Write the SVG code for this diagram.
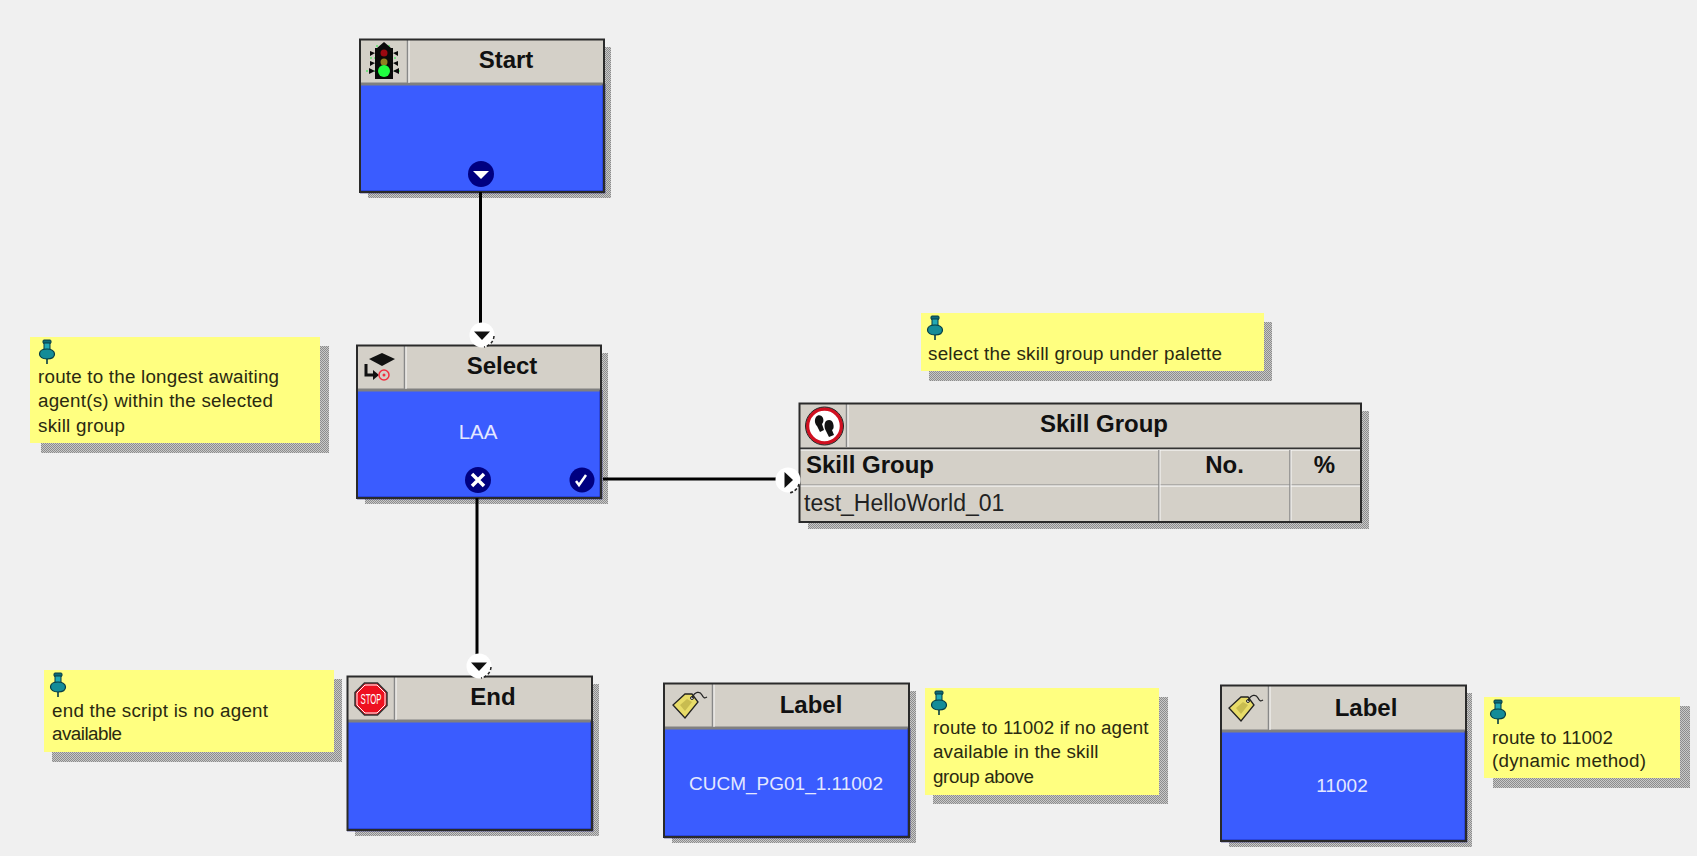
<svg xmlns="http://www.w3.org/2000/svg" xmlns:xlink="http://www.w3.org/1999/xlink" width="1697" height="856" viewBox="0 0 1697 856">
<style>
text{font-family:"Liberation Sans",Arial,sans-serif}
.shadow{fill:url(#dither)}
.body{fill:#3A5CFF}
.bedge{fill:none;stroke:#000070;stroke-width:2.5}
.head{fill:#D4D0C8}
.frame{fill:none;stroke:#2A2A2A;stroke-width:2}
.sep{stroke:#808080;stroke-width:3}
.div{stroke:#fff;stroke-width:1;opacity:.9}
.div2{stroke:#888;stroke-width:1.5}
.title{font-size:24px;font-weight:700;fill:#111;text-anchor:middle}
.val{font-size:19px;fill:#E4E8FF;text-anchor:middle}
.note{fill:#FFFF80}
.ntext{font-size:18.8px;fill:#2A2A10}
.port{fill:#000080}
.tri{fill:#fff}
.conn{stroke:#000;stroke-width:3;fill:none}
</style>
<defs>
<pattern id="dither" width="2" height="2" patternUnits="userSpaceOnUse"><rect width="2" height="2" fill="#C8C8C8"/><rect width="1" height="1" fill="#8C8C8C"/><rect x="1" y="1" width="1" height="1" fill="#8C8C8C"/></pattern>
<g id="pin">
<rect x="-4" y="0" width="8" height="3.500" rx="1" fill="#0E6C78" stroke="#063C44" stroke-width="1"/>
<rect x="-3" y="3" width="6" height="7" fill="#22A8B4" stroke="#063C44" stroke-width="1"/>
<path d="M-7.500 14c0-3 3-5 7.500-5s7.500 2 7.500 5-3 5-7.500 5-7.500-2-7.500-5z" fill="#148C98" stroke="#063C44" stroke-width="1.200"/>
<path d="M0 19v5" stroke="#063C44" stroke-width="1.600"/>
</g>
<g id="tag">
<path d="M-16 0L-4 13 9-3 3-11-4-11z" fill="#E8DC68" stroke="#222" stroke-width="1.300"/>
<path d="M-9 0L-4 6 3-3-2-6z" fill="#C8BC50"/>
<circle cx="3" cy="-7" r="1.500" fill="#fff" stroke="#222"/>
<path d="M3-7C6-14 11-14 13-10S16-7 18-8" fill="none" stroke="#222" stroke-width="1.300"/>
</g>
<g id="out"><circle r="13" class="port"/><path d="M-8-3H8L0 5z" class="tri"/></g>
</defs>
<rect width="1697" height="856" fill="#F0F0F0"/>
<g id="start">
<rect class="shadow" x="368" y="47" width="243" height="151"/>
<rect class="head" x="360" y="40" width="244" height="44"/>
<rect class="body" x="360" y="84" width="244" height="108"/>
<path class="sep" d="M360 84H604"/><path class="div2" d="M407.500 40V83"/><path class="div" d="M409 40V83"/>
<path class="bedge" d="M360 192H604V84"/><rect class="frame" x="360" y="39.500" width="244" height="152.500"/>
<g>
<path d="M366 71h36M370 58h28M376 46h16M376 77h16" stroke="#20F040" stroke-width="1" stroke-dasharray="2 2"/>
<path d="M384 42l7 6h2v31h-18V48h2zM375 53l-5-2v5zM393 53l5-2v5zM375 63l-5-2v5zM393 63l5-2v5zM375 71l-6-3v6zM393 71l6-3v6z" fill="#0A0A0A"/>
<circle cx="384" cy="53" r="3.500" fill="#9A0810"/><circle cx="384" cy="62" r="3.500" fill="#908020"/><circle cx="384" cy="71" r="6" fill="#20FF40"/>
</g>
<text class="title" x="506" y="68">Start</text>
<use xlink:href="#out" x="481" y="174"/>
</g>
<g id="select">
<rect class="shadow" x="365" y="353" width="243" height="151"/>
<rect class="head" x="357" y="346" width="244" height="44"/>
<rect class="body" x="357" y="390" width="244" height="108"/>
<path class="sep" d="M357 390H601"/><path class="div2" d="M404.500 346V389"/><path class="div" d="M406 346V389"/>
<path class="bedge" d="M357 498H601V390"/><rect class="frame" x="357" y="345.500" width="244" height="152.500"/>
<path d="M369 359l13-6 13 6-13 7z" fill="#111"/>
<path d="M366 364v11h8" fill="none" stroke="#111" stroke-width="3"/><path d="M373 370l6 5-6 5z" fill="#111"/>
<circle cx="384" cy="375" r="5" fill="none" stroke="#F03040" stroke-width="1.500"/><circle cx="384" cy="375" r="1.500" fill="#F03040"/>
<text class="title" x="502" y="374">Select</text>
<text class="val" x="478" y="439" style="font-size:20.5px">LAA</text>
<circle cx="478" cy="480" r="13" class="port"/><path d="M472 474l12 12m0-12l-12 12" stroke="#fff" stroke-width="3.500"/>
<circle cx="582" cy="480" r="12.500" class="port"/><path d="M576 481l3 4 7-10" stroke="#fff" stroke-width="2.500" fill="none"/>
</g>
<g id="skillgroup">
<rect class="shadow" x="808" y="411" width="561" height="118"/>
<rect class="head" x="800" y="404" width="561" height="118"/>
<path d="M800 448.500H1361" stroke="#333" stroke-width="2"/><path d="M800 450H1361" stroke="#fff"/>
<path d="M800 485H1361" stroke="#888"/><path d="M800 486H1361" stroke="#fff"/>
<path class="div2" d="M846.500 404V447"/><path class="div" d="M848 404V447"/>
<path class="div2" d="M1159 450V522"/><path class="div" d="M1160 450V522"/>
<path class="div2" d="M1290 450V522"/><path class="div" d="M1291 450V522"/>
<rect class="frame" x="799.500" y="403.500" width="561.500" height="118.500"/>
<circle cx="824.500" cy="426" r="17" fill="#fff" stroke="#D01020" stroke-width="3.500"/><circle cx="824.500" cy="426" r="19" fill="none" stroke="#222" stroke-width="1"/>
<path d="M816 417c2-3 6-2 7 1s0 5-1 6l2 6-4 2-3-6c-2-2-3-6-1-9zM826 421c3-2 6-1 7 2s1 6-1 7l2 5-5 2-3-6c-2-3-2-8 0-10z" fill="#111"/>
<text class="title" x="1104" y="432">Skill Group</text>
<text class="title" x="806" y="473" style="text-anchor:start">Skill Group</text>
<text class="title" x="1224.500" y="473">No.</text>
<text class="title" x="1324.500" y="473">%</text>
<text x="804" y="511" style="font-size:23px;fill:#222">test_HelloWorld_01</text>
</g>
<g id="end">
<rect class="shadow" x="355" y="684" width="244" height="152"/>
<rect class="head" x="347" y="677" width="245" height="44"/>
<rect class="body" x="347" y="721" width="245" height="109"/>
<path class="sep" d="M347 721H592"/><path class="div2" d="M394.500 677V720"/><path class="div" d="M396 677V720"/>
<path class="bedge" d="M347 830H592V721"/><rect class="frame" x="347.500" y="676.500" width="244.500" height="153.500"/>
<path d="M364.500 683H377.500L387 692.500V705.500L377.500 715H364.500L355 705.500V692.500z" fill="#EE1020" stroke="#333" stroke-width="1.500"/>
<path d="M365 685H377L385 693V705L377 713H365L357 705V693z" fill="none" stroke="#fff"/>
<text x="371" y="704" text-anchor="middle" textLength="21" lengthAdjust="spacingAndGlyphs" style="font-size:14px;fill:#fff">STOP</text>
<text class="title" x="493" y="705">End</text>
</g>
<g id="label1">
<rect class="shadow" x="672" y="691" width="244" height="152"/>
<rect class="head" x="664" y="684" width="245" height="44"/>
<rect class="body" x="664" y="728" width="245" height="109"/>
<path class="sep" d="M664 728H909"/><path class="div2" d="M712.500 684V727"/><path class="div" d="M714 684V727"/>
<path class="bedge" d="M664 837H909V728"/><rect class="frame" x="664" y="683.500" width="245" height="153.500"/>
<use xlink:href="#tag" x="689" y="705"/>
<text class="title" x="811" y="713">Label</text>
<text class="val" x="786" y="790">CUCM_PG01_1.11002</text>
</g>
<g id="label2">
<rect class="shadow" x="1229" y="693" width="243" height="154"/>
<rect class="head" x="1221" y="686" width="245" height="45"/>
<rect class="body" x="1221" y="731" width="245" height="110"/>
<path class="sep" d="M1221 731H1466"/><path class="div2" d="M1268.500 686V730"/><path class="div" d="M1270 686V730"/>
<path class="bedge" d="M1221 841H1466V731"/><rect class="frame" x="1221" y="685.500" width="245" height="155.500"/>
<use xlink:href="#tag" x="1245" y="708"/>
<text class="title" x="1366" y="716">Label</text>
<text class="val" x="1342" y="792">11002</text>
</g>
<g id="note-skill">
<rect class="shadow" x="929" y="322" width="343" height="59"/>
<rect class="note" x="921" y="313" width="343" height="58"/>
<use xlink:href="#pin" x="935" y="316"/>
<text class="ntext" x="928" y="360" textLength="294">select the skill group under palette</text>
</g>
<g id="note-select">
<rect class="shadow" x="41" y="346" width="288" height="107"/>
<rect class="note" x="30" y="337" width="290" height="106"/>
<use xlink:href="#pin" x="47" y="340"/>
<text class="ntext" x="38" y="383" textLength="241">route to the longest awaiting</text>
<text class="ntext" x="38" y="407" textLength="235">agent(s) within the selected</text>
<text class="ntext" x="38" y="432" textLength="87">skill group</text>
</g>
<g id="note-end">
<rect class="shadow" x="52" y="679" width="290" height="83"/>
<rect class="note" x="44" y="670" width="290" height="82"/>
<use xlink:href="#pin" x="58" y="673"/>
<text class="ntext" x="52" y="717" textLength="216">end the script is no agent</text>
<text class="ntext" x="52" y="740" textLength="70">available</text>
</g>
<g id="note-label1">
<rect class="shadow" x="933" y="697" width="235" height="107"/>
<rect class="note" x="925" y="688" width="234" height="107"/>
<use xlink:href="#pin" x="939" y="691"/>
<text class="ntext" x="933" y="734" textLength="215.500">route to 11002 if no agent</text>
<text class="ntext" x="933" y="758" textLength="165.500">available in the skill</text>
<text class="ntext" x="933" y="783" textLength="101">group above</text>
</g>
<g id="note-label2">
<rect class="shadow" x="1493" y="706" width="197" height="82"/>
<rect class="note" x="1484" y="697" width="196" height="81"/>
<use xlink:href="#pin" x="1498" y="700"/>
<text class="ntext" x="1492" y="744" textLength="121">route to 11002</text>
<text class="ntext" x="1492" y="767" textLength="154">(dynamic method)</text>
</g>
<g id="connectors">
<path class="conn" d="M480.500 192V326"/>
<path class="conn" d="M477 498V657"/>
<path class="conn" d="M603 479H779"/>
<g id="in-select"><circle cx="482" cy="335" r="12.500" fill="#fff"/><path d="M474 331.500H490L482 340z" fill="#111"/><path d="M494 336a12 12 0 0 1-10 11" fill="none" stroke="#222" stroke-width="1.500" stroke-dasharray="3 2"/></g>
<g id="in-skill"><circle cx="788" cy="480" r="12.500" fill="#fff"/><path d="M784.500 472V488L793 480z" fill="#111"/><path d="M799 484a12 12 0 0 1-10 9" fill="none" stroke="#222" stroke-width="1.500" stroke-dasharray="3 2"/></g>
<g id="in-end"><circle cx="479" cy="666" r="12.500" fill="#fff"/><path d="M471 662.500H487L479 671z" fill="#111"/><path d="M491 667a12 12 0 0 1-10 11" fill="none" stroke="#222" stroke-width="1.500" stroke-dasharray="3 2"/></g>
</g>
</svg>
